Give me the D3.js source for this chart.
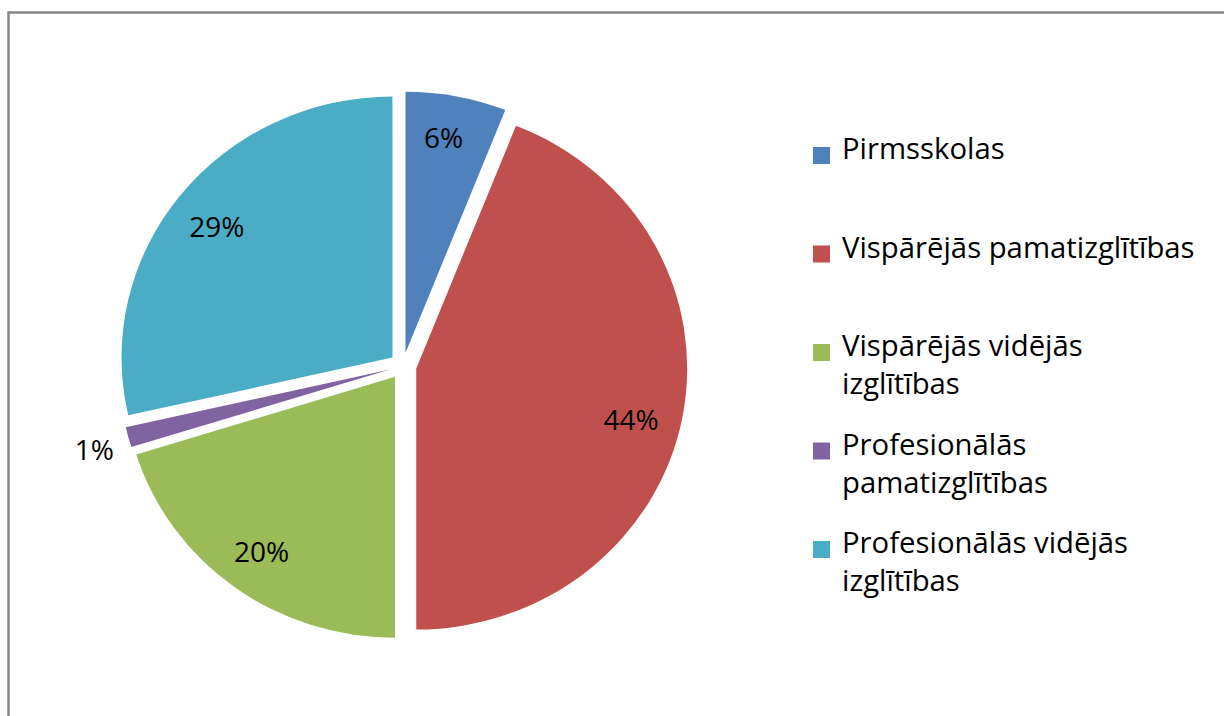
<!DOCTYPE html>
<html>
<head>
<meta charset="utf-8">
<script src="https://cdn.jsdelivr.net/npm/d3@7"></script>
<style>
    html, body { margin: 0; padding: 0; background: #fff; }
    svg { display: block; }
    text { font-family: "Open Sans", "Noto Sans", sans-serif; fill: #000; }
</style>
</head>
<body>
<div id="chart"></div>
<script>
// Data (shares in %)
const categories = [
    "Pirmsskolas",
    "Vispārējās pamatizglītības",
    "Vispārējās vidējās\nizglītības",
    "Profesionālās\npamatizglītības",
    "Profesionālās vidējās\nizglītības"
];
const shares = [6.0, 44.0, 20.2, 1.25, 28.55];
const colors = ["#4F81BD", "#C0504D", "#9BBB59", "#8064A2", "#4BACC6"];
const outsideLabel = [false, false, false, true, false];

const W = 1224, H = 716;
const cx = 403, cy = 366, r = 261, sx = 1.038, explode = 13.5;

const svg = d3.select("#chart")
    .append("svg")
    .attr("width", W)
    .attr("height", H);

// chart frame (cut off at right and bottom)
svg.append("rect")
    .attr("x", 8.5)
    .attr("y", 12.5)
    .attr("width", W + 20)
    .attr("height", H + 20)
    .attr("fill", "none")
    .attr("stroke", "#868686")
    .attr("stroke-width", 2.5);

const pie = d3.pie().sort(null).value(d => d);
const arcs = pie(shares);

const arc = d3.arc().innerRadius(0).outerRadius(r);
const labelArc = d3.arc().innerRadius(r * 0.83).outerRadius(r * 0.83);
const outerArc = d3.arc().innerRadius(r * 1.13).outerRadius(r * 1.13);

function offset(a) {
    const mid = (a.startAngle + a.endAngle) / 2;
    return [Math.sin(mid) * explode, -Math.cos(mid) * explode];
}

const pieG = svg.append("g")
    .attr("transform", `translate(${cx},${cy}) scale(${sx},1)`);

pieG.selectAll("path")
    .data(arcs)
    .enter()
    .append("path")
    .attr("transform", d => {
        const [ox, oy] = offset(d);
        return `translate(${ox / sx},${oy})`;
    })
    .attr("d", arc)
    .attr("fill", (d, i) => colors[i]);

// Percent labels (Excel nudges the big slice's label a bit lower)
const fmt = d3.format(".0%");
const nudge = [[-4, -3], [-6, 10], [0, 0], [0, 3], [0, 4]];
svg.append("g")
    .selectAll("text")
    .data(arcs)
    .enter()
    .append("text")
    .attr("x", (d, i) => {
        const c = (outsideLabel[i] ? outerArc : labelArc).centroid(d);
        return cx + c[0] * sx + offset(d)[0] + nudge[i][0];
    })
    .attr("y", (d, i) => {
        const c = (outsideLabel[i] ? outerArc : labelArc).centroid(d);
        return cy + c[1] + offset(d)[1] + nudge[i][1];
    })
    .attr("text-anchor", "middle")
    .attr("dominant-baseline", "central")
    .style("font-size", "28px")
    .text(d => fmt(d.data / 100));

// Legend: entries evenly spaced, wrapped lines inside an entry
const legend = svg.append("g");
const lineH = 38, pitch = 98.5, firstBase = 159;
categories.forEach((name, i) => {
    const lines = name.split("\n");
    const baseY = firstBase + i * pitch;
    const g = legend.append("g");
    g.append("rect")
        .attr("x", 813)
        .attr("y", baseY - 12)
        .attr("width", 17)
        .attr("height", 17)
        .attr("fill", colors[i]);
    const t = g.append("text")
        .attr("x", 842)
        .attr("y", baseY)
        .style("font-size", "29.3px");
    lines.forEach((ln, j) => {
        t.append("tspan")
            .attr("x", 842)
            .attr("dy", j === 0 ? 0 : lineH)
            .text(ln);
    });
});
</script>
</body>
</html>
